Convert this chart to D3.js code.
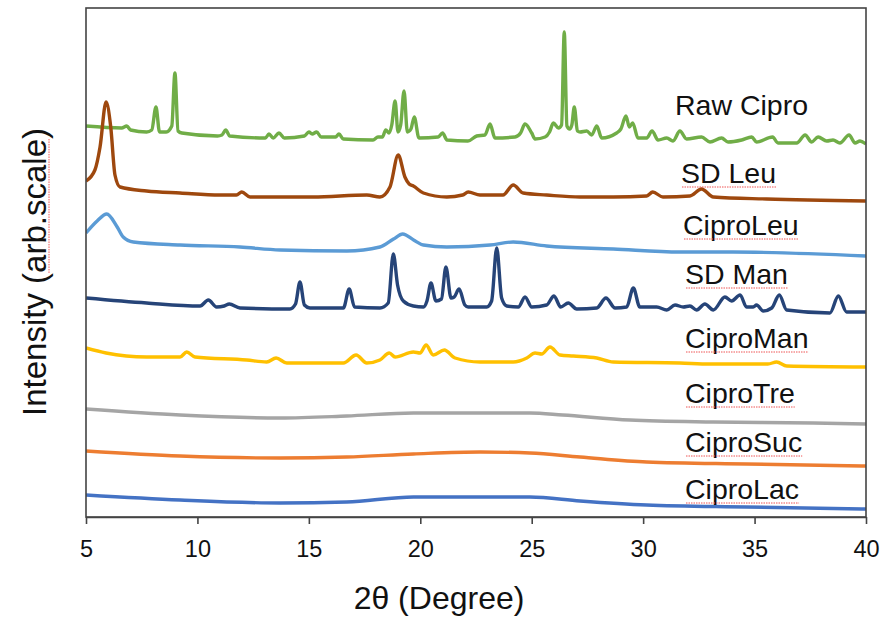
<!DOCTYPE html>
<html lang="en">
<head>
<meta charset="UTF-8">
<title>XRD patterns</title>
<script src="https://d3js.org/d3.v7.min.js"></script>
<style>
    body { margin: 0; background: #fff; font-family: Arial, "Liberation Sans", sans-serif; }
    svg { display: block; }
</style>
</head>
<body>
<svg id="chart"></svg>
<script>
// sample names, top to bottom
const names = ['Raw Cipro', 'SD Leu', 'CiproLeu', 'SD Man', 'CiproMan', 'CiproTre', 'CiproSuc', 'CiproLac'];
const xTicks = [5, 10, 15, 20, 25, 30, 35, 40];

// [2theta, intensity (arb., stacked offset included)]
const rawCipro = [[5.0,391],[6.6,389],[6.83,391],[7.0,387],[7.72,385],[7.95,387],[8.14,410],[8.3,385],[8.6,385],[8.85,391],[8.99,444],[9.13,386],[9.3,384],
    [10.9,381],[11.1,382],[11.27,387],[11.45,381],[13.05,379],[13.21,383],[13.4,379],[13.66,384],[13.9,379],[14.8,381],[15.0,385],[15.15,383],[15.35,385],[15.55,380],
    [16.2,380],[16.35,383],[16.55,378],[17.88,377],[18.1,380],[18.3,380],[18.45,387],[18.6,384],[18.72,392],[18.87,416],[19.0,385],[19.12,392],[19.27,426],[19.42,385],
    [19.58,388],[19.73,400],[19.94,379],[20.8,380],[21.0,384],[21.2,377],[22.14,376],[22.53,381],[22.9,382],[23.13,393],[23.35,379],[24.25,380],[24.5,384],[24.7,393],
    [25.0,384],[25.15,378],[25.6,380],[25.8,385],[25.97,394],[26.2,389],[26.34,392],[26.46,485],[26.58,391],[26.7,388],[26.8,392],[26.91,410],[27.05,386],[27.17,385],
    [27.47,386],[27.69,382],[27.92,391],[28.14,379],[28.81,384],[29.0,388],[29.23,401],[29.38,390],[29.53,394],[29.77,379],[30.16,379],[30.4,386],[30.67,377],[31.06,379],
    [31.34,376],[31.65,386],[31.95,378],[32.62,380],[33.0,375],[33.52,379],[33.81,375],[34.42,377],[34.87,380],[35.09,375],[35.81,380],[36.05,374],[36.89,374],
    [37.27,382],[37.56,375],[37.85,380],[38.24,376],[38.52,377],[38.83,374],[39.24,382],[39.51,374],[39.73,376],[40.0,373]];
const sdLeu = [[5.0,336],[5.4,347],[5.63,370],[5.9,415],[6.11,390],[6.3,342],[6.53,330],[7.72,326],[9.22,324],[11.01,322],[11.75,322],[11.99,325],[12.36,320],
    [15.19,320],[17.6,322],[18.19,320],[18.64,330],[19.01,362],[19.31,340],[19.5,333],[19.69,331],[20.14,324],[21.19,320],[21.9,322],[22.15,325],[22.68,322],[23.71,322],
    [24.17,332],[24.62,324],[25.67,322],[27.17,320],[28.66,320],[30.16,321],[30.43,325],[30.89,320],[32.1,321],[32.62,328],[33.15,320],[35.54,318],[40.0,316]];
const ciproLeu = [[5.0,284],[5.5,296],[5.93,303],[6.4,290],[6.67,280],[7.12,275],[9.22,272],[11.91,270],[13.71,267],[16.7,266],[18.19,270],[18.8,278],[19.21,283],
    [19.7,277],[20.14,272],[21.19,270],[23.13,272],[24.17,275],[25.67,271],[28.66,268],[31.65,265],[34.03,265],[40.0,261]];
const sdMan = [[5.0,219],[7.72,214],[10.12,211],[10.49,217],[10.86,210],[11.2,211],[11.43,213],[11.91,209],[14.15,208],[14.4,213],[14.6,235],[14.8,212],[15.05,209],
    [16.55,209],[16.81,228],[17.05,210],[18.19,209],[18.56,214],[18.79,263],[18.98,232],[19.24,216],[19.69,211],[20.14,210],[20.3,216],[20.48,234],[20.7,216],
    [20.95,218],[21.15,250],[21.38,219],[21.52,220],[21.74,228],[22.0,212],[22.15,210],[22.98,210],[23.2,216],[23.43,269],[23.65,219],[23.88,211],[24.4,210],[24.7,220],
    [25.0,210],[25.67,212],[26.0,221],[26.3,210],[26.64,214],[27.02,208],[27.92,209],[28.33,219],[28.74,209],[29.26,210],[29.56,229],[29.85,210],[30.61,210],[31.06,207],
    [31.43,212],[31.8,210],[32.1,211],[32.4,207],[32.77,213],[33.15,207],[33.67,220],[33.97,216],[34.35,222],[34.64,210],[34.94,210],[35.09,212],[35.39,206],[35.77,209],
    [36.11,222],[36.44,207],[38.38,204],[38.76,221],[39.13,205],[40.0,205]];
const ciproMan = [[5.0,169],[5.9,164],[7.72,160],[9.22,160],[9.52,165],[9.89,160],[12.21,157],[13.11,155],[13.53,159],[14.01,154],[16.55,154],[17.12,162],[17.6,154],
    [18.19,157],[18.61,164],[18.87,160],[19.69,165],[19.99,164],[20.26,172],[20.58,162],[21.08,167],[21.56,159],[22.68,155],[24.17,155],[24.78,159],[25.15,164],
    [25.45,163],[25.82,170],[26.27,162],[26.87,161],[27.92,159],[28.66,155],[31.65,154],[33.0,153],[35.6,153],[35.99,155],[36.44,151],[40.0,150]];
const ciproTre = [[5.0,108],[9.22,102],[13.71,99],[16.7,101],[19.69,104],[22.68,104],[24.92,104],[26.39,102],[29.41,97],[33.15,95],[37.64,94],[40.0,93]];
const ciproSuc = [[5.0,66],[9.22,61],[13.71,59],[16.7,60],[19.69,63],[22.68,65],[24.92,64],[27.17,60],[30.16,55],[34.64,53],[40.0,51]];
const ciproLac = [[5.0,22],[9.22,17],[13.71,14],[16.7,15],[19.69,20],[22.68,20],[24.92,20],[27.17,16],[30.16,12],[34.64,10],[40.0,8]];

const seriesData = [rawCipro, sdLeu, ciproLeu, sdMan, ciproMan, ciproTre, ciproSuc, ciproLac];
const colors = ['#70AD47', '#9E480E', '#5B9BD5', '#264478', '#FFC000', '#A5A5A5', '#ED7D31', '#4472C4'];
// where each label sits (pixels: left x, baseline y)
const labelPos = [[675, 115], [681, 183], [683, 235], [685, 284], [685, 348], [685, 403], [685, 452], [685, 499]];

const width = 885, height = 623;
const plot = { left: 86, right: 866, top: 8, bottom: 517 };

const svg = d3.select('#chart').attr('width', width).attr('height', height);

const x = d3.scaleLinear().domain([5, 40]).range([plot.left, plot.right]);
const y = d3.scaleLinear().domain([0, 509]).range([plot.bottom, plot.top]);

svg.append('clipPath').attr('id', 'clip')
    .append('rect')
    .attr('x', plot.left).attr('y', plot.top)
    .attr('width', plot.right - plot.left).attr('height', plot.bottom - plot.top);

const line = d3.line()
    .x(d => x(d[0]))
    .y(d => y(d[1]))
    .curve(d3.curveMonotoneX);

// patterns
svg.append('g').attr('clip-path', 'url(#clip)')
    .selectAll('path')
    .data(seriesData)
    .join('path')
    .attr('d', line)
    .attr('fill', 'none')
    .attr('stroke', (d, i) => colors[i])
    .attr('stroke-width', 3.4)
    .attr('stroke-linejoin', 'round');

// frame
svg.append('rect')
    .attr('x', plot.left).attr('y', plot.top)
    .attr('width', plot.right - plot.left).attr('height', plot.bottom - plot.top)
    .attr('fill', 'none')
    .attr('stroke', '#444')
    .attr('stroke-width', 1.6);

// x axis
const xAxis = svg.append('g')
    .attr('transform', `translate(0,${plot.bottom})`)
    .call(d3.axisBottom(x).tickValues(xTicks).tickSize(7).tickPadding(16).tickSizeOuter(0));
xAxis.select('.domain').attr('stroke', '#444').attr('stroke-width', 1.6);
xAxis.selectAll('.tick line').attr('stroke', '#444').attr('stroke-width', 1.6);
xAxis.selectAll('.tick text')
    .attr('fill', '#111')
    .style('font-family', 'Arial, "Liberation Sans", sans-serif')
    .style('font-size', '23.5px');

// axis titles
svg.append('text')
    .attr('x', 439).attr('y', 609)
    .attr('text-anchor', 'middle')
    .attr('fill', '#111')
    .style('font-size', '32px')
    .text('2θ (Degree)');

const yTitle = svg.append('g').attr('transform', 'translate(46,272) rotate(-90)');
const yText = yTitle.append('text')
    .attr('x', 0).attr('y', 0)
    .attr('text-anchor', 'middle')
    .attr('fill', '#111')
    .style('font-size', '33px')
    .text('Intensity (arb.scale)');

// spell-check style underline under "arb.scale"
const yNode = yText.node();
const s = yNode.getStartPositionOfChar(11).x;
const e = yNode.getEndPositionOfChar(19).x;
yTitle.append('line')
    .attr('x1', s).attr('x2', e).attr('y1', 3).attr('y2', 3)
    .attr('stroke', '#ee5555').attr('stroke-width', 1)
    .attr('stroke-dasharray', '1.5,1');

// sample labels
const labels = svg.append('g');
names.forEach((name, i) => {
    const t = labels.append('text')
        .attr('x', labelPos[i][0]).attr('y', labelPos[i][1])
        .attr('fill', '#111')
        .style('font-size', '28.5px')
        .text(name);
    if (i > 0) {
        const len = t.node().getComputedTextLength();
        labels.append('line')
            .attr('x1', labelPos[i][0] + 1).attr('x2', labelPos[i][0] + len)
            .attr('y1', labelPos[i][1] + 4).attr('y2', labelPos[i][1] + 4)
            .attr('stroke', '#ee5555').attr('stroke-width', 1)
            .attr('stroke-dasharray', '1.5,1');
    }
});
</script>
</body>
</html>
